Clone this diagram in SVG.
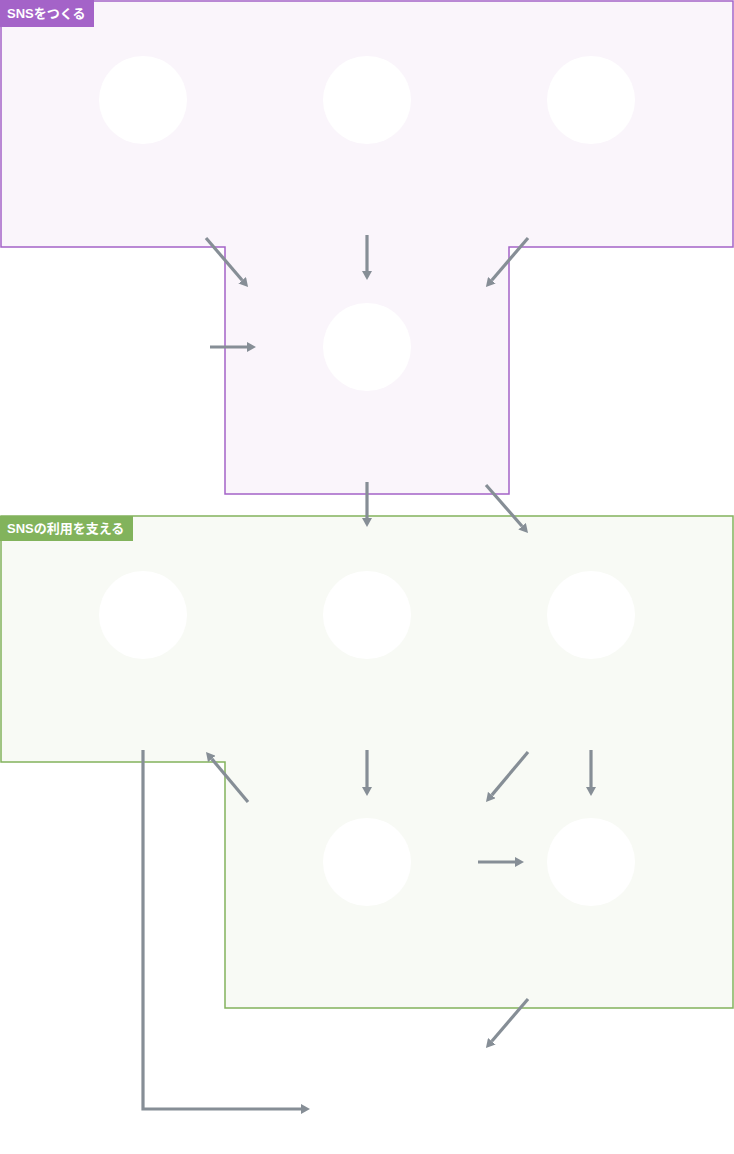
<svg xmlns="http://www.w3.org/2000/svg" width="734" height="1154" viewBox="0 0 734 1154">
<style>
.gp{fill:#faf5fb;stroke:#a463c8;stroke-width:1.5}
.gg{fill:#f8faf5;stroke:#82b35c;stroke-width:1.5}
.c{fill:#ffffff}
.lbl{fill:#ffffff;font-family:"Liberation Sans","Noto Sans CJK JP",sans-serif;font-weight:bold;font-size:13px}
.e{fill:none;stroke:#868e96;stroke-width:3.2;marker-end:url(#ah)}
</style>
<defs>
<marker id="ah" markerUnits="userSpaceOnUse" viewBox="0 -5 9 10" markerWidth="9" markerHeight="10" refX="0" refY="0" orient="auto">
<path d="M0,-5 L9,0 L0,5 z" fill="#868e96"/>
</marker>
</defs>
<g id="group-make">
<path class="gp" d="M1,1 H733 V247 H509 V494 H225 V247 H1 Z"/>
<rect x="0" y="0" width="94" height="27" fill="#a463c8"/>
<text class="lbl" x="7" y="18">SNSをつくる</text>
</g>
<g id="group-use">
<path class="gg" d="M1,516 H733 V1008 H225 V762 H1 Z"/>
<rect x="0" y="516" width="133" height="25" fill="#82b35c"/>
<text class="lbl" x="7" y="533">SNSの利用を支える</text>
</g>
<g id="n1"><circle class="c" cx="143" cy="100" r="44"/></g>
<g id="n2"><circle class="c" cx="367" cy="100" r="44"/></g>
<g id="n3"><circle class="c" cx="591" cy="100" r="44"/></g>
<g id="n4"><circle class="c" cx="367" cy="347" r="44"/></g>
<g id="n5"><circle class="c" cx="143" cy="615" r="44"/></g>
<g id="n6"><circle class="c" cx="367" cy="615" r="44"/></g>
<g id="n7"><circle class="c" cx="591" cy="615" r="44"/></g>
<g id="n8"><circle class="c" cx="367" cy="862" r="44"/></g>
<g id="n9"><circle class="c" cx="591" cy="862" r="44"/></g>
<g id="connectors">
<path class="e" d="M206,238 L242.2,280.2"/>
<path class="e" d="M367,235 L367,271"/>
<path class="e" d="M528,238 L491.8,280.2"/>
<path class="e" d="M210,347 L247,347"/>
<path class="e" d="M367,482 L367,518"/>
<path class="e" d="M486,485 L522.1,526.2"/>
<path class="e" d="M248,802 L211.8,758.9"/>
<path class="e" d="M367,750 L367,787"/>
<path class="e" d="M528,752 L491.8,795.1"/>
<path class="e" d="M591,750 L591,787"/>
<path class="e" d="M478,862 L515,862"/>
<path class="e" d="M528,999 L491.8,1041.2"/>
<path class="e" d="M143,750 L143,1109 L301,1109"/>
</g>
</svg>
